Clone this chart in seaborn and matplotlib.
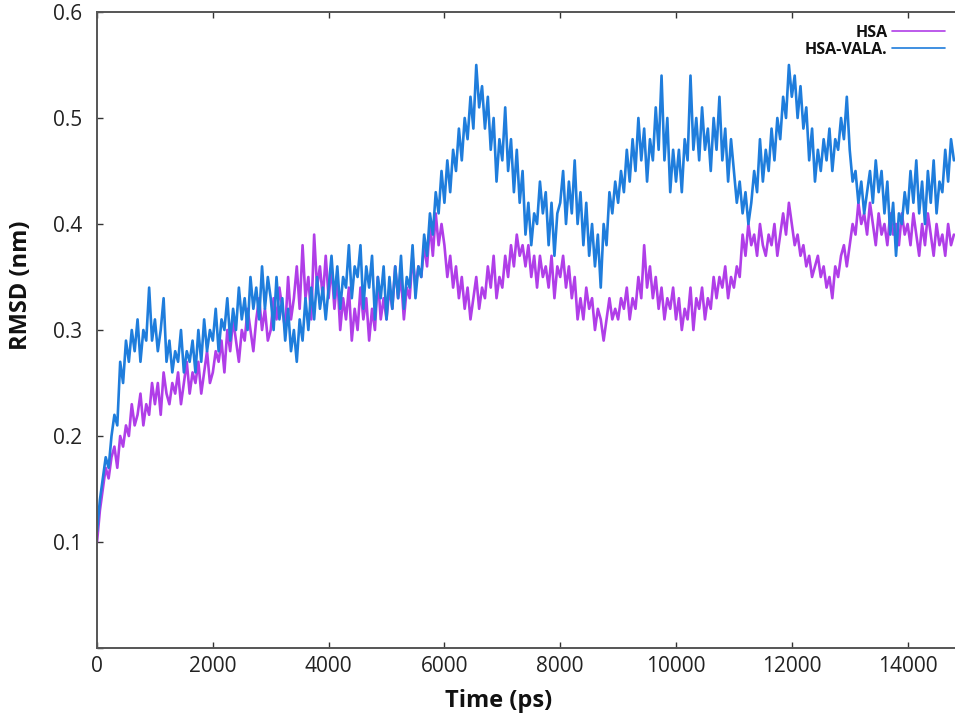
import numpy as np
import pandas as pd
import matplotlib
matplotlib.use("Agg")
import matplotlib.pyplot as plt
import seaborn as sns

# RMSD trajectories, one sample every 50 ps from 0 to 14800 ps
time_step_ps = 50

hsa = [
    0.10, 0.13, 0.15, 0.17, 0.16, 0.18, 0.19, 0.17, 0.20, 0.19, 0.21, 0.20, 0.23, 0.21, 0.22, 0.24, 0.21, 0.23, 0.22, 0.25,
    0.23, 0.25, 0.22, 0.26, 0.24, 0.23, 0.25, 0.24, 0.26, 0.23, 0.25, 0.27, 0.24, 0.26, 0.25, 0.27, 0.24, 0.26, 0.28, 0.25,
    0.26, 0.28, 0.27, 0.29, 0.26, 0.30, 0.28, 0.31, 0.29, 0.27, 0.30, 0.29, 0.32, 0.30, 0.28, 0.31, 0.33, 0.30, 0.32, 0.29,
    0.30, 0.33, 0.31, 0.34, 0.32, 0.30, 0.35, 0.31, 0.33, 0.36, 0.32, 0.38, 0.33, 0.35, 0.31, 0.39, 0.34, 0.36, 0.33, 0.37,
    0.33, 0.36, 0.32, 0.35, 0.30, 0.33, 0.31, 0.34, 0.29, 0.32, 0.30, 0.34, 0.31, 0.33, 0.29, 0.32, 0.30, 0.35, 0.31, 0.33,
    0.31, 0.34, 0.32, 0.36, 0.33, 0.35, 0.31, 0.34, 0.33, 0.37, 0.34, 0.36, 0.35, 0.38, 0.36, 0.40, 0.37, 0.41, 0.38, 0.40,
    0.38, 0.35, 0.37, 0.34, 0.36, 0.33, 0.35, 0.32, 0.34, 0.31, 0.33, 0.35, 0.32, 0.34, 0.33, 0.36, 0.34, 0.37, 0.33, 0.35,
    0.34, 0.37, 0.35, 0.38, 0.36, 0.39, 0.37, 0.38, 0.36, 0.38, 0.35, 0.37, 0.34, 0.37, 0.35, 0.36, 0.34, 0.37, 0.33, 0.36,
    0.35, 0.37, 0.34, 0.36, 0.33, 0.35, 0.31, 0.33, 0.31, 0.34, 0.32, 0.33, 0.30, 0.32, 0.31, 0.29, 0.31, 0.33, 0.31, 0.32,
    0.31, 0.33, 0.32, 0.34, 0.31, 0.33, 0.32, 0.35, 0.33, 0.38, 0.34, 0.36, 0.33, 0.35, 0.32, 0.34, 0.31, 0.33, 0.32, 0.34,
    0.31, 0.33, 0.30, 0.32, 0.31, 0.34, 0.30, 0.33, 0.32, 0.34, 0.31, 0.33, 0.32, 0.35, 0.33, 0.35, 0.34, 0.36, 0.33, 0.35,
    0.34, 0.36, 0.35, 0.39, 0.37, 0.40, 0.38, 0.39, 0.37, 0.40, 0.38, 0.37, 0.39, 0.38, 0.40, 0.37, 0.39, 0.41, 0.39, 0.42,
    0.40, 0.38, 0.39, 0.37, 0.38, 0.36, 0.37, 0.35, 0.36, 0.37, 0.35, 0.36, 0.34, 0.35, 0.33, 0.36, 0.35, 0.37, 0.38, 0.36,
    0.38, 0.40, 0.39, 0.42, 0.40, 0.41, 0.39, 0.42, 0.40, 0.38, 0.41, 0.39, 0.40, 0.38, 0.41, 0.39, 0.40, 0.38, 0.41, 0.39,
    0.40, 0.38, 0.41, 0.39, 0.37, 0.40, 0.38, 0.41, 0.39, 0.37, 0.40, 0.38, 0.39, 0.37, 0.40, 0.38, 0.39,
]

hsa_vala = [
    0.11, 0.14, 0.16, 0.18, 0.17, 0.20, 0.22, 0.21, 0.27, 0.25, 0.29, 0.27, 0.30, 0.28, 0.31, 0.27, 0.30, 0.29, 0.34, 0.29,
    0.31, 0.28, 0.30, 0.33, 0.27, 0.29, 0.26, 0.28, 0.27, 0.30, 0.26, 0.28, 0.27, 0.29, 0.26, 0.30, 0.27, 0.31, 0.28, 0.30,
    0.29, 0.32, 0.28, 0.31, 0.30, 0.33, 0.29, 0.32, 0.30, 0.34, 0.31, 0.33, 0.30, 0.35, 0.32, 0.34, 0.31, 0.36, 0.32, 0.35,
    0.33, 0.30, 0.35, 0.31, 0.33, 0.29, 0.32, 0.28, 0.30, 0.27, 0.31, 0.29, 0.33, 0.30, 0.34, 0.31, 0.35, 0.32, 0.34, 0.31,
    0.34, 0.37, 0.33, 0.36, 0.32, 0.35, 0.34, 0.38, 0.33, 0.36, 0.35, 0.38, 0.32, 0.36, 0.34, 0.37, 0.31, 0.35, 0.33, 0.36,
    0.31, 0.35, 0.32, 0.36, 0.33, 0.37, 0.32, 0.35, 0.34, 0.38, 0.33, 0.36, 0.35, 0.39, 0.37, 0.41, 0.39, 0.43, 0.41, 0.45,
    0.42, 0.46, 0.43, 0.47, 0.45, 0.49, 0.46, 0.50, 0.48, 0.52, 0.49, 0.55, 0.51, 0.53, 0.49, 0.52, 0.47, 0.50, 0.44, 0.48,
    0.46, 0.51, 0.45, 0.48, 0.43, 0.47, 0.42, 0.45, 0.39, 0.42, 0.38, 0.41, 0.40, 0.44, 0.41, 0.43, 0.38, 0.42, 0.37, 0.41,
    0.42, 0.45, 0.40, 0.44, 0.41, 0.46, 0.40, 0.43, 0.38, 0.42, 0.37, 0.40, 0.36, 0.39, 0.34, 0.40, 0.38, 0.43, 0.41, 0.44,
    0.42, 0.45, 0.43, 0.47, 0.44, 0.48, 0.45, 0.50, 0.46, 0.49, 0.44, 0.48, 0.46, 0.51, 0.47, 0.54, 0.46, 0.50, 0.43, 0.47,
    0.44, 0.47, 0.43, 0.48, 0.46, 0.54, 0.47, 0.50, 0.46, 0.51, 0.47, 0.49, 0.45, 0.50, 0.47, 0.52, 0.46, 0.49, 0.44, 0.48,
    0.45, 0.42, 0.44, 0.41, 0.43, 0.40, 0.42, 0.45, 0.43, 0.48, 0.44, 0.47, 0.45, 0.49, 0.46, 0.50, 0.48, 0.52, 0.50, 0.55,
    0.52, 0.54, 0.50, 0.53, 0.49, 0.51, 0.46, 0.49, 0.44, 0.47, 0.45, 0.48, 0.46, 0.49, 0.45, 0.48, 0.47, 0.50, 0.48, 0.52,
    0.47, 0.44, 0.45, 0.42, 0.44, 0.41, 0.43, 0.45, 0.42, 0.46, 0.43, 0.45, 0.41, 0.44, 0.39, 0.42, 0.37, 0.41, 0.40, 0.43,
    0.41, 0.45, 0.42, 0.46, 0.41, 0.44, 0.40, 0.45, 0.42, 0.46, 0.41, 0.44, 0.43, 0.47, 0.44, 0.48, 0.46,
]

series_names = ["HSA", "HSA-VALA."]
series_colors = ["#b03ee8", "#1f7ddc"]
x_ticks = [0, 2000, 4000, 6000, 8000, 10000, 12000, 14000]
y_ticks = [0.0, 0.1, 0.2, 0.3, 0.4, 0.5, 0.6]
y_tick_labels = ["", "0.1", "0.2", "0.3", "0.4", "0.5", "0.6"]

frames = []
for name, values in zip(series_names, [hsa, hsa_vala]):
    t = np.arange(len(values)) * time_step_ps
    frames.append(pd.DataFrame({"Time (ps)": t, "RMSD (nm)": values, "system": name}))
df = pd.concat(frames, ignore_index=True)

sns.set_theme(style="white")
plt.rcParams["font.family"] = ["Open Sans", "DejaVu Sans"]

fig = plt.figure(figsize=(9.55, 7.17), dpi=100)
# the plotting area runs past the right edge of the canvas
ax = fig.add_axes([0.1016, 0.0962, 0.9094, 0.8871])

sns.lineplot(
    data=df, x="Time (ps)", y="RMSD (nm)", hue="system",
    hue_order=series_names, palette=series_colors,
    estimator=None, sort=False, linewidth=1.9, ax=ax, legend=False,
)

ax.set_xlim(0, 15000)
ax.set_ylim(0, 0.6)
ax.set_xticks(x_ticks)
ax.set_xticklabels([str(v) for v in x_ticks])
ax.set_yticks(y_ticks)
ax.set_yticklabels(y_tick_labels)

for side, spine in ax.spines.items():
    spine.set_color("#555555")
    spine.set_linewidth(1.4)

ax.tick_params(axis="both", which="major", direction="in", length=4, width=1.0,
               color="#333333", labelsize=15, labelcolor="#222222")
ax.tick_params(axis="x", top=True, bottom=True, pad=6)
ax.tick_params(axis="y", left=True, right=False, pad=11)

ax.set_xlabel("Time (ps)", fontsize=17, fontweight="bold", color="#111111")
ax.set_ylabel("RMSD (nm)", fontsize=17, fontweight="bold", color="#111111")
ax.xaxis.set_label_coords(0.462, -0.065)
ax.yaxis.set_label_coords(-0.074, 0.571)

handles = [plt.Line2D([], [], color=c, linewidth=1.2) for c in series_colors]
leg = fig.legend(
    handles, series_names, loc="upper right",
    bbox_to_anchor=(945 / 955, 1 - 25 / 717), frameon=False,
    markerfirst=False, handlelength=3.3, handletextpad=0.3,
    labelspacing=0.05, borderpad=0, borderaxespad=0,
    prop={"weight": "bold", "size": 11.5},
)
for txt in leg.get_texts():
    txt.set_color("#111111")

fig.savefig("out.png", dpi=100, facecolor="white")
